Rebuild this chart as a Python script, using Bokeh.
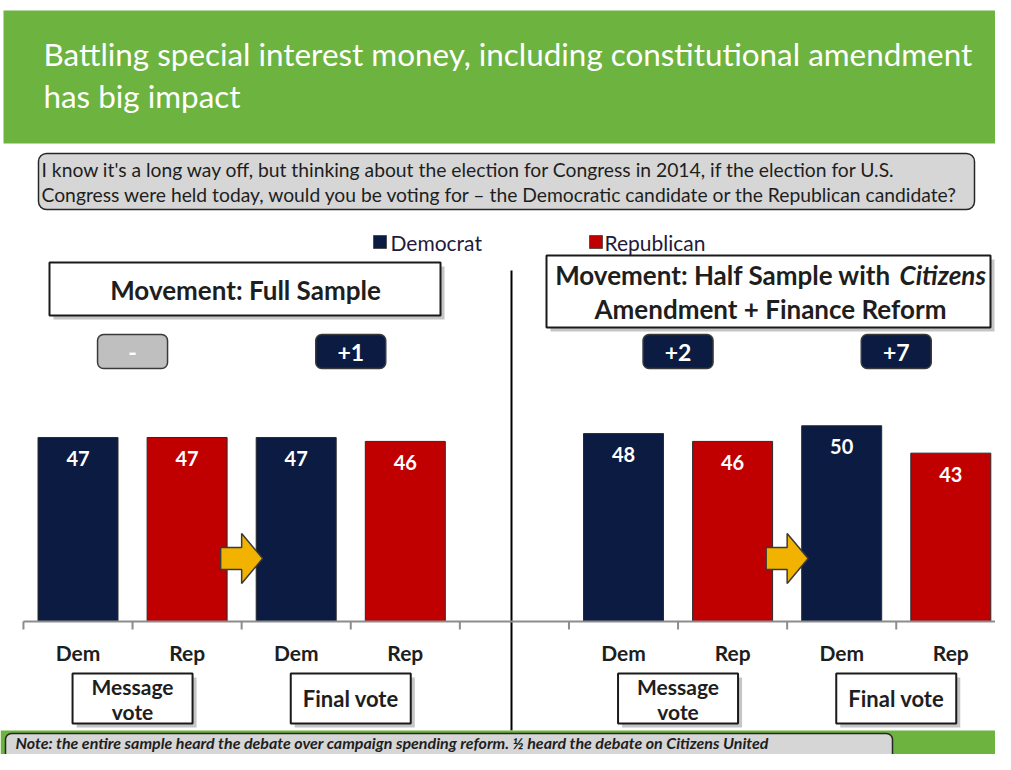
from bokeh.plotting import figure
from bokeh.models import Range1d
from bokeh.core.properties import value
from bokeh.embed import file_html
from bokeh.resources import INLINE

# ---------------- data ----------------
title_lines = ["Battling special interest money, including constitutional amendment",
               "has big impact"]
question_lines = ["I know it's a long way off, but thinking about the election  for Congress in 2014, if the election  for U.S.",
                  "Congress were held today, would you be voting for \u2013 the Democratic candidate or the Republican  candidate?"]
series_names = ["Democrat", "Republican"]
category_labels = ["Dem", "Rep", "Dem", "Rep"]
group_labels = [["Message", "vote"], ["Final vote"]]
full_sample = [47, 47, 47, 46]
half_sample = [48, 46, 50, 43]
full_margins = ["-", "+1"]
half_margins = ["+2", "+7"]
full_title = "Movement: Full Sample"
half_title_a = "Movement: Half Sample with "
half_title_b = "Citizens"
half_title_c = "Amendment + Finance Reform"
note_text = "Note: the entire sample heard the debate over campaign spending reform.  \u00bd heard the debate on Citizens United"

# ---------------- style ----------------
FONT = value("Lato")
DEM = "#0b1b41"
REP = "#c00000"
GREEN = "#6cb33f"
TXT = "#1e1e1e"

W, H = 995, 754
PX_CAT = 109.1          # pixels per category slot
CAT0 = 77.5             # pixel x of first category centre
PX_VAL = 3.915          # pixels per percentage point
BASE = 621.0            # pixel y of the value axis baseline

p = figure(width=W, height=H, output_backend="svg", toolbar_location=None,
           x_range=Range1d(0, W), y_range=Range1d(H, 0),
           x_axis_type=None, y_axis_type=None, min_border=0)
p.outline_line_color = None
p.background_fill_color = "white"
p.border_fill_color = "white"
p.extra_x_ranges = {"cat": Range1d((0 - CAT0) / PX_CAT, (W - CAT0) / PX_CAT)}
p.extra_y_ranges = {"val": Range1d((BASE - H) / PX_VAL, BASE / PX_VAL)}


def txt(x, y, s, size, color=TXT, style="normal", align="center", baseline="middle", **kw):
    p.text(x=[x], y=[y], text=[s], text_font=FONT, text_font_size=size,
           text_color=color, text_font_style=style, text_align=align,
           text_baseline=baseline, **kw)


def box(l, r, t, b, fill, line="#1a1a1a", lw=2, radius=0, shadow=True, **kw):
    if shadow:
        sh = 4 / PX_CAT if kw.get("x_range_name") == "cat" else 4
        p.quad(left=l + sh, right=r + sh, top=t + 4, bottom=b + 4, fill_color="#7f7f7f",
               fill_alpha=0.45, line_color=None, border_radius=radius, **kw)
    p.quad(left=l, right=r, top=t, bottom=b, fill_color=fill, line_color=line,
           line_width=lw, border_radius=radius, **kw)


# ---------------- header ----------------
p.quad(left=3, right=1100, top=10, bottom=143, fill_color=GREEN, line_color=None)
txt(43, 53, title_lines[0], "31.4px", color="white", align="left")
txt(43, 95, title_lines[1], "31.4px", color="white", align="left")

# ---------------- question ----------------
box(38, 974, 153, 209, "#d6d6d6", line="#262626", lw=1.5, radius=8, shadow=False)
txt(41, 169, question_lines[0], "19.3px", align="left")
txt(41, 194, question_lines[1], "19.3px", align="left")

# ---------------- legend ----------------
p.quad(left=373, right=386, top=235, bottom=248, fill_color=DEM, line_color="#333333", line_width=0.7)
txt(390, 242, series_names[0], "21px", color="#221a3a", align="left")
p.quad(left=589, right=602, top=235, bottom=248, fill_color=REP, line_color="#333333", line_width=0.7)
txt(604, 242, series_names[1], "21px", color="#221a3a", align="left")

# ---------------- panel titles ----------------
box(49, 440, 262, 315, "white")
txt(245, 289, full_title, "26px", style="bold")
box(546, 990, 255, 327, "white")
txt(897, 274, half_title_a, "26px", style="bold", align="right")
txt(899, 274, half_title_b, "26px", style="bold italic", align="left")
txt(770, 308, half_title_c, "26px", style="bold")

# divider
p.segment(x0=[511], y0=[270], x1=[511], y1=[730], line_color="black", line_width=2)

# ---------------- bars ----------------
values = full_sample + half_sample
xs = [0, 1, 2, 3, 5, 6, 7, 8]
cols = [DEM if c == "Dem" else REP for c in category_labels] * 2
cats = category_labels * 2
bw = 80 / PX_CAT
p.vbar(x=xs, top=values, bottom=0, width=bw, fill_color=cols, line_color="#2a2a2a",
       line_width=1, x_range_name="cat", y_range_name="val")
p.text(x=xs, y=[v - 21 / PX_VAL for v in values], text=[str(v) for v in values],
       text_font=FONT, text_font_size="20px", text_font_style="bold", text_color="white",
       text_align="center", text_baseline="middle", x_range_name="cat", y_range_name="val")

# axis baseline and ticks (boundaries between slots)
p.segment(x0=[-0.5], y0=[0], x1=[8.5], y1=[0], line_color="#8c8c8c", line_width=2,
          x_range_name="cat", y_range_name="val")
ticks = [i - 0.5 for i in range(9)]
p.segment(x0=ticks, y0=[BASE] * 9, x1=ticks, y1=[BASE + 8] * 9, line_color="#8c8c8c",
          line_width=2, x_range_name="cat")
p.text(x=xs, y=[652] * len(xs), text=cats, text_font=FONT, text_font_size="21px",
       text_font_style="bold", text_color=TXT, text_align="center", text_baseline="middle",
       x_range_name="cat")

# ---------------- margin badges ----------------
margins = full_margins + half_margins
mpos = [0.5, 2.5, 5.5, 7.5]
for m, u in zip(margins, mpos):
    grey = m == "-"
    box(u - 35 / PX_CAT, u + 35 / PX_CAT, 334, 368, "#bfbfbf" if grey else DEM,
        line="#3a3a3a", lw=1.5, radius=6, shadow=False, x_range_name="cat")
    p.text(x=[u], y=[352], text=[m], text_font=FONT, text_font_size="23px",
           text_font_style="bold", text_color="white", text_align="center",
           text_baseline="middle", x_range_name="cat")

# ---------------- arrows ----------------
for ub in [1.5, 6.5]:
    dx = [-21, 0, 0, 21, 0, 0, -21]
    dy = [-11, -11, -25, 0, 25, 11, 11]
    p.patch(x=[ub + d / PX_CAT for d in dx], y=[558 + d for d in dy], fill_color="#f2b300",
            line_color="#3a3a3a", line_width=1.5, x_range_name="cat")

# ---------------- group boxes ----------------
for ub_pair in [(0.5, 2.5), (5.5, 7.5)]:
    for ub, lab in zip(ub_pair, group_labels):
        box(ub - 60 / PX_CAT, ub + 60 / PX_CAT, 673, 723, "white", x_range_name="cat")
        if len(lab) == 2:
            p.text(x=[ub, ub], y=[686, 711], text=lab, text_font=FONT, text_font_size="21px",
                   text_font_style="bold", text_color=TXT, text_align="center",
                   text_baseline="middle", x_range_name="cat")
        else:
            p.text(x=[ub], y=[698], text=lab, text_font=FONT, text_font_size="22px",
                   text_font_style="bold", text_color=TXT, text_align="center",
                   text_baseline="middle", x_range_name="cat")

# ---------------- note ----------------
p.quad(left=0, right=1100, top=730, bottom=800, fill_color=GREEN, line_color=None)
box(5, 892, 733, 780, "#d6d6d6", line="#262626", lw=1.5, radius=6, shadow=False)
txt(15, 742, note_text, "16px", style="bold italic", align="left")

open("out.html", "w").write(file_html(p, INLINE))
